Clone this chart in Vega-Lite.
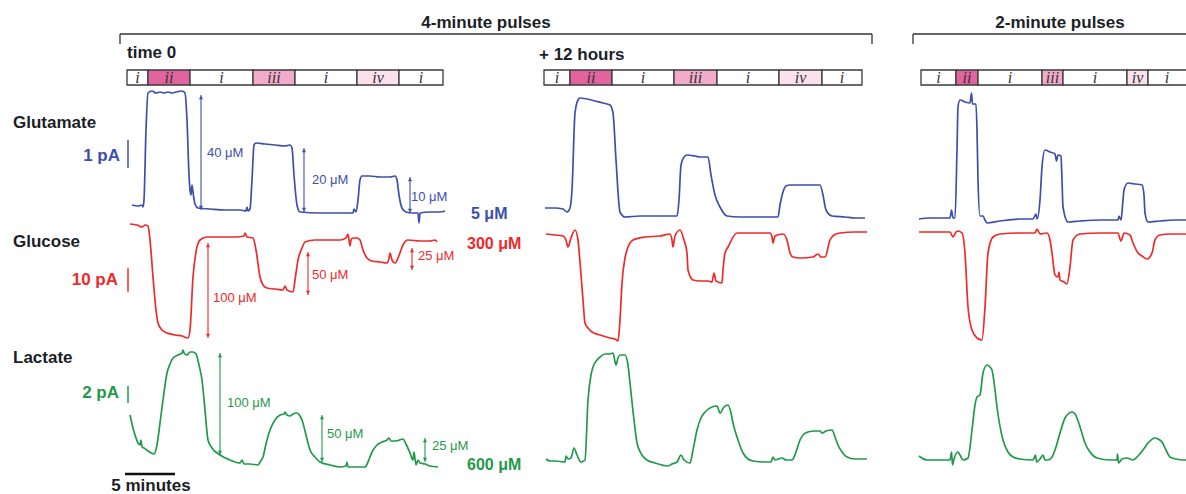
{
  "$schema": "https://vega.github.io/schema/vega-lite/v6.json",
  "width": 1186,
  "height": 494,
  "autosize": {"type": "fit", "contains": "padding"},
  "padding": 0,
  "background": "white",
  "config": {"view": {"stroke": null}},
  "datasets": {
    "trace": [
      {"a":"Glu","p":1,"x":132,"y":205},{"a":"Glu","p":1,"x":138,"y":206},{"a":"Glu","p":1,"x":142,"y":205},{"a":"Glu","p":1,"x":143,"y":207},{"a":"Glu","p":1,"x":144,"y":200},{"a":"Glu","p":1,"x":146,"y":130},{"a":"Glu","p":1,"x":148,"y":93},{"a":"Glu","p":1,"x":152,"y":91},{"a":"Glu","p":1,"x":156,"y":93},{"a":"Glu","p":1,"x":160,"y":92},{"a":"Glu","p":1,"x":164,"y":93},{"a":"Glu","p":1,"x":168,"y":92},{"a":"Glu","p":1,"x":172,"y":93},{"a":"Glu","p":1,"x":176,"y":92},{"a":"Glu","p":1,"x":182,"y":91},{"a":"Glu","p":1,"x":185,"y":93},{"a":"Glu","p":1,"x":187,"y":120},{"a":"Glu","p":1,"x":189,"y":175},{"a":"Glu","p":1,"x":190,"y":190},{"a":"Glu","p":1,"x":191,"y":195},{"a":"Glu","p":1,"x":192,"y":185},{"a":"Glu","p":1,"x":193,"y":192},{"a":"Glu","p":1,"x":195,"y":204},{"a":"Glu","p":1,"x":198,"y":208},{"a":"Glu","p":1,"x":210,"y":209},{"a":"Glu","p":1,"x":225,"y":210},{"a":"Glu","p":1,"x":240,"y":210},{"a":"Glu","p":1,"x":246,"y":211},{"a":"Glu","p":1,"x":247,"y":207},{"a":"Glu","p":1,"x":248,"y":211},{"a":"Glu","p":1,"x":250,"y":209},{"a":"Glu","p":1,"x":252,"y":180},{"a":"Glu","p":1,"x":254,"y":145},{"a":"Glu","p":1,"x":256,"y":143},{"a":"Glu","p":1,"x":265,"y":144},{"a":"Glu","p":1,"x":275,"y":145},{"a":"Glu","p":1,"x":285,"y":146},{"a":"Glu","p":1,"x":290,"y":145},{"a":"Glu","p":1,"x":292,"y":148},{"a":"Glu","p":1,"x":294,"y":175},{"a":"Glu","p":1,"x":297,"y":205},{"a":"Glu","p":1,"x":300,"y":212},{"a":"Glu","p":1,"x":320,"y":213},{"a":"Glu","p":1,"x":340,"y":213},{"a":"Glu","p":1,"x":353,"y":213},{"a":"Glu","p":1,"x":354,"y":209},{"a":"Glu","p":1,"x":356,"y":212},{"a":"Glu","p":1,"x":358,"y":200},{"a":"Glu","p":1,"x":360,"y":180},{"a":"Glu","p":1,"x":362,"y":176},{"a":"Glu","p":1,"x":370,"y":176},{"a":"Glu","p":1,"x":380,"y":177},{"a":"Glu","p":1,"x":390,"y":177},{"a":"Glu","p":1,"x":395,"y":176},{"a":"Glu","p":1,"x":397,"y":180},{"a":"Glu","p":1,"x":399,"y":195},{"a":"Glu","p":1,"x":402,"y":208},{"a":"Glu","p":1,"x":406,"y":212},{"a":"Glu","p":1,"x":412,"y":213},{"a":"Glu","p":1,"x":418,"y":213},{"a":"Glu","p":1,"x":419,"y":223},{"a":"Glu","p":1,"x":420,"y":213},{"a":"Glu","p":1,"x":430,"y":212},{"a":"Glu","p":1,"x":440,"y":212},{"a":"Glu","p":1,"x":445,"y":211},

      {"a":"Glc","p":1,"x":130,"y":224},{"a":"Glc","p":1,"x":137,"y":225},{"a":"Glc","p":1,"x":142,"y":227},{"a":"Glc","p":1,"x":145,"y":225},{"a":"Glc","p":1,"x":148,"y":226},{"a":"Glc","p":1,"x":150,"y":240},{"a":"Glc","p":1,"x":153,"y":277},{"a":"Glc","p":1,"x":156,"y":310},{"a":"Glc","p":1,"x":158,"y":323},{"a":"Glc","p":1,"x":162,"y":330},{"a":"Glc","p":1,"x":167,"y":333},{"a":"Glc","p":1,"x":175,"y":335},{"a":"Glc","p":1,"x":182,"y":336},{"a":"Glc","p":1,"x":188,"y":338},{"a":"Glc","p":1,"x":190,"y":330},{"a":"Glc","p":1,"x":193,"y":277},{"a":"Glc","p":1,"x":196,"y":252},{"a":"Glc","p":1,"x":200,"y":240},{"a":"Glc","p":1,"x":207,"y":237},{"a":"Glc","p":1,"x":220,"y":237},{"a":"Glc","p":1,"x":235,"y":237},{"a":"Glc","p":1,"x":244,"y":236},{"a":"Glc","p":1,"x":245,"y":233},{"a":"Glc","p":1,"x":247,"y":237},{"a":"Glc","p":1,"x":253,"y":238},{"a":"Glc","p":1,"x":256,"y":250},{"a":"Glc","p":1,"x":260,"y":277},{"a":"Glc","p":1,"x":263,"y":285},{"a":"Glc","p":1,"x":267,"y":288},{"a":"Glc","p":1,"x":275,"y":289},{"a":"Glc","p":1,"x":283,"y":290},{"a":"Glc","p":1,"x":285,"y":286},{"a":"Glc","p":1,"x":287,"y":290},{"a":"Glc","p":1,"x":293,"y":292},{"a":"Glc","p":1,"x":295,"y":280},{"a":"Glc","p":1,"x":298,"y":260},{"a":"Glc","p":1,"x":302,"y":248},{"a":"Glc","p":1,"x":305,"y":242},{"a":"Glc","p":1,"x":315,"y":240},{"a":"Glc","p":1,"x":330,"y":240},{"a":"Glc","p":1,"x":340,"y":240},{"a":"Glc","p":1,"x":346,"y":238},{"a":"Glc","p":1,"x":348,"y":234},{"a":"Glc","p":1,"x":350,"y":246},{"a":"Glc","p":1,"x":351,"y":240},{"a":"Glc","p":1,"x":353,"y":238},{"a":"Glc","p":1,"x":357,"y":238},{"a":"Glc","p":1,"x":360,"y":240},{"a":"Glc","p":1,"x":363,"y":250},{"a":"Glc","p":1,"x":367,"y":258},{"a":"Glc","p":1,"x":372,"y":261},{"a":"Glc","p":1,"x":380,"y":262},{"a":"Glc","p":1,"x":387,"y":263},{"a":"Glc","p":1,"x":389,"y":258},{"a":"Glc","p":1,"x":390,"y":253},{"a":"Glc","p":1,"x":392,"y":260},{"a":"Glc","p":1,"x":395,"y":263},{"a":"Glc","p":1,"x":398,"y":258},{"a":"Glc","p":1,"x":401,"y":250},{"a":"Glc","p":1,"x":403,"y":245},{"a":"Glc","p":1,"x":408,"y":240},{"a":"Glc","p":1,"x":420,"y":241},{"a":"Glc","p":1,"x":430,"y":241},{"a":"Glc","p":1,"x":435,"y":240},{"a":"Glc","p":1,"x":437,"y":242},

      {"a":"Lac","p":1,"x":130,"y":415},{"a":"Lac","p":1,"x":133,"y":428},{"a":"Lac","p":1,"x":136,"y":438},{"a":"Lac","p":1,"x":138,"y":443},{"a":"Lac","p":1,"x":140,"y":445},{"a":"Lac","p":1,"x":141,"y":440},{"a":"Lac","p":1,"x":142,"y":447},{"a":"Lac","p":1,"x":144,"y":448},{"a":"Lac","p":1,"x":148,"y":451},{"a":"Lac","p":1,"x":154,"y":454},{"a":"Lac","p":1,"x":157,"y":445},{"a":"Lac","p":1,"x":160,"y":423},{"a":"Lac","p":1,"x":163,"y":400},{"a":"Lac","p":1,"x":167,"y":373},{"a":"Lac","p":1,"x":170,"y":364},{"a":"Lac","p":1,"x":173,"y":358},{"a":"Lac","p":1,"x":178,"y":355},{"a":"Lac","p":1,"x":182,"y":353},{"a":"Lac","p":1,"x":183,"y":350},{"a":"Lac","p":1,"x":184,"y":353},{"a":"Lac","p":1,"x":187,"y":355},{"a":"Lac","p":1,"x":190,"y":352},{"a":"Lac","p":1,"x":193,"y":352},{"a":"Lac","p":1,"x":196,"y":354},{"a":"Lac","p":1,"x":199,"y":365},{"a":"Lac","p":1,"x":202,"y":380},{"a":"Lac","p":1,"x":205,"y":410},{"a":"Lac","p":1,"x":208,"y":440},{"a":"Lac","p":1,"x":212,"y":448},{"a":"Lac","p":1,"x":220,"y":455},{"a":"Lac","p":1,"x":230,"y":460},{"a":"Lac","p":1,"x":240,"y":463},{"a":"Lac","p":1,"x":242,"y":460},{"a":"Lac","p":1,"x":244,"y":464},{"a":"Lac","p":1,"x":250,"y":464},{"a":"Lac","p":1,"x":258,"y":465},{"a":"Lac","p":1,"x":260,"y":462},{"a":"Lac","p":1,"x":263,"y":457},{"a":"Lac","p":1,"x":266,"y":444},{"a":"Lac","p":1,"x":270,"y":430},{"a":"Lac","p":1,"x":275,"y":420},{"a":"Lac","p":1,"x":280,"y":415},{"a":"Lac","p":1,"x":284,"y":414},{"a":"Lac","p":1,"x":285,"y":412},{"a":"Lac","p":1,"x":287,"y":415},{"a":"Lac","p":1,"x":290,"y":416},{"a":"Lac","p":1,"x":293,"y":414},{"a":"Lac","p":1,"x":297,"y":413},{"a":"Lac","p":1,"x":300,"y":416},{"a":"Lac","p":1,"x":302,"y":420},{"a":"Lac","p":1,"x":306,"y":435},{"a":"Lac","p":1,"x":310,"y":450},{"a":"Lac","p":1,"x":315,"y":457},{"a":"Lac","p":1,"x":320,"y":462},{"a":"Lac","p":1,"x":330,"y":465},{"a":"Lac","p":1,"x":340,"y":467},{"a":"Lac","p":1,"x":346,"y":466},{"a":"Lac","p":1,"x":347,"y":462},{"a":"Lac","p":1,"x":348,"y":467},{"a":"Lac","p":1,"x":360,"y":467},{"a":"Lac","p":1,"x":365,"y":467},{"a":"Lac","p":1,"x":368,"y":462},{"a":"Lac","p":1,"x":372,"y":452},{"a":"Lac","p":1,"x":377,"y":445},{"a":"Lac","p":1,"x":382,"y":442},{"a":"Lac","p":1,"x":387,"y":440},{"a":"Lac","p":1,"x":389,"y":438},{"a":"Lac","p":1,"x":391,"y":441},{"a":"Lac","p":1,"x":396,"y":441},{"a":"Lac","p":1,"x":403,"y":439},{"a":"Lac","p":1,"x":406,"y":444},{"a":"Lac","p":1,"x":410,"y":453},{"a":"Lac","p":1,"x":413,"y":460},{"a":"Lac","p":1,"x":414,"y":452},{"a":"Lac","p":1,"x":416,"y":465},{"a":"Lac","p":1,"x":418,"y":460},{"a":"Lac","p":1,"x":420,"y":463},{"a":"Lac","p":1,"x":425,"y":464},{"a":"Lac","p":1,"x":430,"y":466},{"a":"Lac","p":1,"x":438,"y":467},

      {"a":"Glu","p":2,"x":545,"y":208},{"a":"Glu","p":2,"x":555,"y":208},{"a":"Glu","p":2,"x":563,"y":209},{"a":"Glu","p":2,"x":567,"y":212},{"a":"Glu","p":2,"x":570,"y":208},{"a":"Glu","p":2,"x":572,"y":190},{"a":"Glu","p":2,"x":575,"y":113},{"a":"Glu","p":2,"x":578,"y":100},{"a":"Glu","p":2,"x":580,"y":98},{"a":"Glu","p":2,"x":587,"y":99},{"a":"Glu","p":2,"x":595,"y":101},{"a":"Glu","p":2,"x":603,"y":103},{"a":"Glu","p":2,"x":610,"y":105},{"a":"Glu","p":2,"x":613,"y":113},{"a":"Glu","p":2,"x":616,"y":160},{"a":"Glu","p":2,"x":620,"y":212},{"a":"Glu","p":2,"x":625,"y":217},{"a":"Glu","p":2,"x":640,"y":216},{"a":"Glu","p":2,"x":660,"y":216},{"a":"Glu","p":2,"x":677,"y":216},{"a":"Glu","p":2,"x":679,"y":200},{"a":"Glu","p":2,"x":681,"y":165},{"a":"Glu","p":2,"x":684,"y":157},{"a":"Glu","p":2,"x":687,"y":155},{"a":"Glu","p":2,"x":695,"y":156},{"a":"Glu","p":2,"x":700,"y":157},{"a":"Glu","p":2,"x":708,"y":157},{"a":"Glu","p":2,"x":711,"y":175},{"a":"Glu","p":2,"x":715,"y":195},{"a":"Glu","p":2,"x":720,"y":207},{"a":"Glu","p":2,"x":727,"y":216},{"a":"Glu","p":2,"x":740,"y":217},{"a":"Glu","p":2,"x":760,"y":217},{"a":"Glu","p":2,"x":778,"y":217},{"a":"Glu","p":2,"x":780,"y":205},{"a":"Glu","p":2,"x":783,"y":192},{"a":"Glu","p":2,"x":786,"y":186},{"a":"Glu","p":2,"x":790,"y":185},{"a":"Glu","p":2,"x":800,"y":185},{"a":"Glu","p":2,"x":810,"y":185},{"a":"Glu","p":2,"x":820,"y":185},{"a":"Glu","p":2,"x":823,"y":195},{"a":"Glu","p":2,"x":826,"y":210},{"a":"Glu","p":2,"x":832,"y":216},{"a":"Glu","p":2,"x":845,"y":217},{"a":"Glu","p":2,"x":855,"y":218},{"a":"Glu","p":2,"x":865,"y":218},

      {"a":"Glc","p":2,"x":546,"y":234},{"a":"Glc","p":2,"x":555,"y":235},{"a":"Glc","p":2,"x":563,"y":236},{"a":"Glc","p":2,"x":566,"y":240},{"a":"Glc","p":2,"x":568,"y":247},{"a":"Glc","p":2,"x":571,"y":238},{"a":"Glc","p":2,"x":575,"y":230},{"a":"Glc","p":2,"x":578,"y":240},{"a":"Glc","p":2,"x":580,"y":262},{"a":"Glc","p":2,"x":583,"y":300},{"a":"Glc","p":2,"x":585,"y":323},{"a":"Glc","p":2,"x":588,"y":328},{"a":"Glc","p":2,"x":592,"y":332},{"a":"Glc","p":2,"x":600,"y":335},{"a":"Glc","p":2,"x":610,"y":338},{"a":"Glc","p":2,"x":615,"y":339},{"a":"Glc","p":2,"x":618,"y":341},{"a":"Glc","p":2,"x":620,"y":320},{"a":"Glc","p":2,"x":622,"y":283},{"a":"Glc","p":2,"x":625,"y":258},{"a":"Glc","p":2,"x":627,"y":250},{"a":"Glc","p":2,"x":633,"y":240},{"a":"Glc","p":2,"x":645,"y":237},{"a":"Glc","p":2,"x":660,"y":236},{"a":"Glc","p":2,"x":670,"y":234},{"a":"Glc","p":2,"x":672,"y":240},{"a":"Glc","p":2,"x":673,"y":247},{"a":"Glc","p":2,"x":675,"y":236},{"a":"Glc","p":2,"x":680,"y":230},{"a":"Glc","p":2,"x":684,"y":240},{"a":"Glc","p":2,"x":687,"y":253},{"a":"Glc","p":2,"x":688,"y":270},{"a":"Glc","p":2,"x":693,"y":280},{"a":"Glc","p":2,"x":700,"y":281},{"a":"Glc","p":2,"x":708,"y":281},{"a":"Glc","p":2,"x":712,"y":282},{"a":"Glc","p":2,"x":714,"y":273},{"a":"Glc","p":2,"x":716,"y":281},{"a":"Glc","p":2,"x":722,"y":283},{"a":"Glc","p":2,"x":723,"y":270},{"a":"Glc","p":2,"x":725,"y":253},{"a":"Glc","p":2,"x":728,"y":247},{"a":"Glc","p":2,"x":737,"y":233},{"a":"Glc","p":2,"x":750,"y":233},{"a":"Glc","p":2,"x":770,"y":233},{"a":"Glc","p":2,"x":772,"y":237},{"a":"Glc","p":2,"x":773,"y":243},{"a":"Glc","p":2,"x":775,"y":236},{"a":"Glc","p":2,"x":783,"y":234},{"a":"Glc","p":2,"x":787,"y":240},{"a":"Glc","p":2,"x":790,"y":253},{"a":"Glc","p":2,"x":793,"y":257},{"a":"Glc","p":2,"x":800,"y":258},{"a":"Glc","p":2,"x":813,"y":257},{"a":"Glc","p":2,"x":818,"y":254},{"a":"Glc","p":2,"x":821,"y":257},{"a":"Glc","p":2,"x":825,"y":257},{"a":"Glc","p":2,"x":830,"y":240},{"a":"Glc","p":2,"x":834,"y":235},{"a":"Glc","p":2,"x":840,"y":233},{"a":"Glc","p":2,"x":855,"y":232},{"a":"Glc","p":2,"x":867,"y":232},

      {"a":"Lac","p":2,"x":546,"y":459},{"a":"Lac","p":2,"x":550,"y":461},{"a":"Lac","p":2,"x":555,"y":461},{"a":"Lac","p":2,"x":565,"y":462},{"a":"Lac","p":2,"x":566,"y":456},{"a":"Lac","p":2,"x":568,"y":459},{"a":"Lac","p":2,"x":571,"y":458},{"a":"Lac","p":2,"x":574,"y":448},{"a":"Lac","p":2,"x":577,"y":455},{"a":"Lac","p":2,"x":581,"y":462},{"a":"Lac","p":2,"x":585,"y":460},{"a":"Lac","p":2,"x":588,"y":400},{"a":"Lac","p":2,"x":591,"y":375},{"a":"Lac","p":2,"x":593,"y":367},{"a":"Lac","p":2,"x":597,"y":360},{"a":"Lac","p":2,"x":600,"y":357},{"a":"Lac","p":2,"x":605,"y":354},{"a":"Lac","p":2,"x":610,"y":354},{"a":"Lac","p":2,"x":613,"y":353},{"a":"Lac","p":2,"x":616,"y":365},{"a":"Lac","p":2,"x":618,"y":358},{"a":"Lac","p":2,"x":620,"y":355},{"a":"Lac","p":2,"x":625,"y":355},{"a":"Lac","p":2,"x":628,"y":365},{"a":"Lac","p":2,"x":630,"y":383},{"a":"Lac","p":2,"x":634,"y":420},{"a":"Lac","p":2,"x":637,"y":443},{"a":"Lac","p":2,"x":642,"y":455},{"a":"Lac","p":2,"x":647,"y":460},{"a":"Lac","p":2,"x":655,"y":463},{"a":"Lac","p":2,"x":668,"y":466},{"a":"Lac","p":2,"x":672,"y":464},{"a":"Lac","p":2,"x":677,"y":462},{"a":"Lac","p":2,"x":681,"y":455},{"a":"Lac","p":2,"x":684,"y":460},{"a":"Lac","p":2,"x":690,"y":463},{"a":"Lac","p":2,"x":693,"y":450},{"a":"Lac","p":2,"x":697,"y":430},{"a":"Lac","p":2,"x":701,"y":418},{"a":"Lac","p":2,"x":705,"y":412},{"a":"Lac","p":2,"x":712,"y":407},{"a":"Lac","p":2,"x":717,"y":406},{"a":"Lac","p":2,"x":720,"y":413},{"a":"Lac","p":2,"x":724,"y":407},{"a":"Lac","p":2,"x":728,"y":405},{"a":"Lac","p":2,"x":731,"y":413},{"a":"Lac","p":2,"x":733,"y":423},{"a":"Lac","p":2,"x":738,"y":440},{"a":"Lac","p":2,"x":743,"y":453},{"a":"Lac","p":2,"x":748,"y":459},{"a":"Lac","p":2,"x":753,"y":461},{"a":"Lac","p":2,"x":765,"y":462},{"a":"Lac","p":2,"x":771,"y":462},{"a":"Lac","p":2,"x":773,"y":457},{"a":"Lac","p":2,"x":775,"y":460},{"a":"Lac","p":2,"x":782,"y":458},{"a":"Lac","p":2,"x":786,"y":460},{"a":"Lac","p":2,"x":792,"y":460},{"a":"Lac","p":2,"x":796,"y":452},{"a":"Lac","p":2,"x":800,"y":440},{"a":"Lac","p":2,"x":804,"y":434},{"a":"Lac","p":2,"x":808,"y":432},{"a":"Lac","p":2,"x":815,"y":431},{"a":"Lac","p":2,"x":820,"y":431},{"a":"Lac","p":2,"x":822,"y":433},{"a":"Lac","p":2,"x":826,"y":431},{"a":"Lac","p":2,"x":832,"y":430},{"a":"Lac","p":2,"x":835,"y":437},{"a":"Lac","p":2,"x":838,"y":445},{"a":"Lac","p":2,"x":842,"y":452},{"a":"Lac","p":2,"x":847,"y":457},{"a":"Lac","p":2,"x":855,"y":459},{"a":"Lac","p":2,"x":867,"y":459},

      {"a":"Glu","p":3,"x":919,"y":219},{"a":"Glu","p":3,"x":930,"y":218},{"a":"Glu","p":3,"x":945,"y":218},{"a":"Glu","p":3,"x":950,"y":218},{"a":"Glu","p":3,"x":951.5,"y":210},{"a":"Glu","p":3,"x":953,"y":218},{"a":"Glu","p":3,"x":955,"y":218},{"a":"Glu","p":3,"x":957,"y":150},{"a":"Glu","p":3,"x":958,"y":107},{"a":"Glu","p":3,"x":960,"y":100},{"a":"Glu","p":3,"x":965,"y":102},{"a":"Glu","p":3,"x":970,"y":103},{"a":"Glu","p":3,"x":971.5,"y":93},{"a":"Glu","p":3,"x":972.5,"y":104},{"a":"Glu","p":3,"x":976,"y":104},{"a":"Glu","p":3,"x":977,"y":130},{"a":"Glu","p":3,"x":978,"y":180},{"a":"Glu","p":3,"x":980,"y":216},{"a":"Glu","p":3,"x":983,"y":216},{"a":"Glu","p":3,"x":985,"y":220},{"a":"Glu","p":3,"x":987,"y":223},{"a":"Glu","p":3,"x":1000,"y":221},{"a":"Glu","p":3,"x":1020,"y":219},{"a":"Glu","p":3,"x":1033,"y":219},{"a":"Glu","p":3,"x":1036,"y":214},{"a":"Glu","p":3,"x":1037,"y":219},{"a":"Glu","p":3,"x":1040,"y":200},{"a":"Glu","p":3,"x":1042,"y":167},{"a":"Glu","p":3,"x":1045,"y":150},{"a":"Glu","p":3,"x":1050,"y":152},{"a":"Glu","p":3,"x":1055,"y":154},{"a":"Glu","p":3,"x":1056.5,"y":161},{"a":"Glu","p":3,"x":1058,"y":155},{"a":"Glu","p":3,"x":1061,"y":156},{"a":"Glu","p":3,"x":1062,"y":180},{"a":"Glu","p":3,"x":1063,"y":207},{"a":"Glu","p":3,"x":1068,"y":222},{"a":"Glu","p":3,"x":1080,"y":221},{"a":"Glu","p":3,"x":1100,"y":220},{"a":"Glu","p":3,"x":1118,"y":220},{"a":"Glu","p":3,"x":1119,"y":216},{"a":"Glu","p":3,"x":1121,"y":220},{"a":"Glu","p":3,"x":1123,"y":200},{"a":"Glu","p":3,"x":1124,"y":190},{"a":"Glu","p":3,"x":1128,"y":183},{"a":"Glu","p":3,"x":1135,"y":184},{"a":"Glu","p":3,"x":1142,"y":185},{"a":"Glu","p":3,"x":1144,"y":195},{"a":"Glu","p":3,"x":1145,"y":213},{"a":"Glu","p":3,"x":1148,"y":222},{"a":"Glu","p":3,"x":1160,"y":221},{"a":"Glu","p":3,"x":1175,"y":220},{"a":"Glu","p":3,"x":1186,"y":220},

      {"a":"Glc","p":3,"x":919,"y":232},{"a":"Glc","p":3,"x":935,"y":232},{"a":"Glc","p":3,"x":950,"y":232},{"a":"Glc","p":3,"x":953,"y":237},{"a":"Glc","p":3,"x":956,"y":232},{"a":"Glc","p":3,"x":958,"y":231},{"a":"Glc","p":3,"x":962,"y":233},{"a":"Glc","p":3,"x":965,"y":253},{"a":"Glc","p":3,"x":968,"y":307},{"a":"Glc","p":3,"x":972,"y":330},{"a":"Glc","p":3,"x":977,"y":338},{"a":"Glc","p":3,"x":982,"y":340},{"a":"Glc","p":3,"x":985,"y":307},{"a":"Glc","p":3,"x":988,"y":253},{"a":"Glc","p":3,"x":993,"y":237},{"a":"Glc","p":3,"x":1000,"y":234},{"a":"Glc","p":3,"x":1020,"y":233},{"a":"Glc","p":3,"x":1035,"y":233},{"a":"Glc","p":3,"x":1037,"y":229},{"a":"Glc","p":3,"x":1040,"y":234},{"a":"Glc","p":3,"x":1047,"y":233},{"a":"Glc","p":3,"x":1050,"y":240},{"a":"Glc","p":3,"x":1052,"y":253},{"a":"Glc","p":3,"x":1055,"y":275},{"a":"Glc","p":3,"x":1058,"y":277},{"a":"Glc","p":3,"x":1059,"y":272},{"a":"Glc","p":3,"x":1060,"y":280},{"a":"Glc","p":3,"x":1064,"y":282},{"a":"Glc","p":3,"x":1067,"y":284},{"a":"Glc","p":3,"x":1070,"y":267},{"a":"Glc","p":3,"x":1073,"y":240},{"a":"Glc","p":3,"x":1080,"y":234},{"a":"Glc","p":3,"x":1100,"y":233},{"a":"Glc","p":3,"x":1118,"y":233},{"a":"Glc","p":3,"x":1120,"y":239},{"a":"Glc","p":3,"x":1121,"y":241},{"a":"Glc","p":3,"x":1124,"y":233},{"a":"Glc","p":3,"x":1130,"y":235},{"a":"Glc","p":3,"x":1133,"y":243},{"a":"Glc","p":3,"x":1138,"y":253},{"a":"Glc","p":3,"x":1142,"y":256},{"a":"Glc","p":3,"x":1147,"y":259},{"a":"Glc","p":3,"x":1152,"y":253},{"a":"Glc","p":3,"x":1155,"y":240},{"a":"Glc","p":3,"x":1160,"y":235},{"a":"Glc","p":3,"x":1170,"y":234},{"a":"Glc","p":3,"x":1186,"y":234},

      {"a":"Lac","p":3,"x":919,"y":456},{"a":"Lac","p":3,"x":927,"y":460},{"a":"Lac","p":3,"x":940,"y":460},{"a":"Lac","p":3,"x":950,"y":460},{"a":"Lac","p":3,"x":951.5,"y":452},{"a":"Lac","p":3,"x":952.5,"y":465},{"a":"Lac","p":3,"x":954,"y":459},{"a":"Lac","p":3,"x":958,"y":452},{"a":"Lac","p":3,"x":960,"y":455},{"a":"Lac","p":3,"x":963,"y":460},{"a":"Lac","p":3,"x":968,"y":458},{"a":"Lac","p":3,"x":972,"y":430},{"a":"Lac","p":3,"x":975,"y":405},{"a":"Lac","p":3,"x":977,"y":397},{"a":"Lac","p":3,"x":980,"y":395},{"a":"Lac","p":3,"x":983,"y":373},{"a":"Lac","p":3,"x":987,"y":365},{"a":"Lac","p":3,"x":990,"y":367},{"a":"Lac","p":3,"x":992,"y":370},{"a":"Lac","p":3,"x":995,"y":390},{"a":"Lac","p":3,"x":997,"y":407},{"a":"Lac","p":3,"x":1003,"y":440},{"a":"Lac","p":3,"x":1008,"y":452},{"a":"Lac","p":3,"x":1013,"y":457},{"a":"Lac","p":3,"x":1020,"y":459},{"a":"Lac","p":3,"x":1033,"y":460},{"a":"Lac","p":3,"x":1035.5,"y":455},{"a":"Lac","p":3,"x":1036.5,"y":462},{"a":"Lac","p":3,"x":1040,"y":459},{"a":"Lac","p":3,"x":1043,"y":455},{"a":"Lac","p":3,"x":1045,"y":460},{"a":"Lac","p":3,"x":1048,"y":460},{"a":"Lac","p":3,"x":1052,"y":457},{"a":"Lac","p":3,"x":1055,"y":450},{"a":"Lac","p":3,"x":1060,"y":433},{"a":"Lac","p":3,"x":1065,"y":418},{"a":"Lac","p":3,"x":1068,"y":414},{"a":"Lac","p":3,"x":1072,"y":412},{"a":"Lac","p":3,"x":1075,"y":414},{"a":"Lac","p":3,"x":1077,"y":418},{"a":"Lac","p":3,"x":1081,"y":430},{"a":"Lac","p":3,"x":1085,"y":443},{"a":"Lac","p":3,"x":1090,"y":452},{"a":"Lac","p":3,"x":1097,"y":458},{"a":"Lac","p":3,"x":1110,"y":460},{"a":"Lac","p":3,"x":1117,"y":460},{"a":"Lac","p":3,"x":1117.5,"y":454},{"a":"Lac","p":3,"x":1118.5,"y":463},{"a":"Lac","p":3,"x":1122,"y":459},{"a":"Lac","p":3,"x":1127,"y":458},{"a":"Lac","p":3,"x":1133,"y":460},{"a":"Lac","p":3,"x":1138,"y":456},{"a":"Lac","p":3,"x":1143,"y":450},{"a":"Lac","p":3,"x":1148,"y":443},{"a":"Lac","p":3,"x":1155,"y":438},{"a":"Lac","p":3,"x":1158,"y":439},{"a":"Lac","p":3,"x":1162,"y":442},{"a":"Lac","p":3,"x":1166,"y":450},{"a":"Lac","p":3,"x":1170,"y":457},{"a":"Lac","p":3,"x":1176,"y":459},{"a":"Lac","p":3,"x":1183,"y":460},{"a":"Lac","p":3,"x":1186,"y":460}
    ],
    "pulses": [
      {"x":127,"x2":148,"xc":137.5,"y":70,"y2":85,"ty":82.5,"k":"i"},{"x":148,"x2":190,"xc":169,"y":70,"y2":85,"ty":82.5,"k":"ii"},{"x":190,"x2":253,"xc":221.5,"y":70,"y2":85,"ty":82.5,"k":"i"},{"x":253,"x2":295,"xc":274,"y":70,"y2":85,"ty":82.5,"k":"iii"},{"x":295,"x2":357,"xc":326,"y":70,"y2":85,"ty":82.5,"k":"i"},{"x":357,"x2":399,"xc":378,"y":70,"y2":85,"ty":82.5,"k":"iv"},{"x":399,"x2":443,"xc":421,"y":70,"y2":85,"ty":82.5,"k":"i"},
      {"x":544,"x2":570,"xc":557,"y":70,"y2":85,"ty":82.5,"k":"i"},{"x":570,"x2":612,"xc":591,"y":70,"y2":85,"ty":82.5,"k":"ii"},{"x":612,"x2":674,"xc":643,"y":70,"y2":85,"ty":82.5,"k":"i"},{"x":674,"x2":717,"xc":695.5,"y":70,"y2":85,"ty":82.5,"k":"iii"},{"x":717,"x2":779,"xc":748,"y":70,"y2":85,"ty":82.5,"k":"i"},{"x":779,"x2":822,"xc":800.5,"y":70,"y2":85,"ty":82.5,"k":"iv"},{"x":822,"x2":862,"xc":842,"y":70,"y2":85,"ty":82.5,"k":"i"},
      {"x":921,"x2":956,"xc":938.5,"y":70,"y2":85,"ty":82.5,"k":"i"},{"x":956,"x2":978,"xc":967,"y":70,"y2":85,"ty":82.5,"k":"ii"},{"x":978,"x2":1042,"xc":1010,"y":70,"y2":85,"ty":82.5,"k":"i"},{"x":1042,"x2":1063,"xc":1052.5,"y":70,"y2":85,"ty":82.5,"k":"iii"},{"x":1063,"x2":1127,"xc":1095,"y":70,"y2":85,"ty":82.5,"k":"i"},{"x":1127,"x2":1148,"xc":1137.5,"y":70,"y2":85,"ty":82.5,"k":"iv"},{"x":1148,"x2":1224,"xc":1167,"y":70,"y2":85,"ty":82.5,"k":"i"}
    ],
    "brackets": [
      {"x":120,"x2":872,"y":34,"y2":34},{"x":120,"x2":120,"y":34,"y2":44},{"x":872,"x2":872,"y":34,"y2":44},
      {"x":913,"x2":1200,"y":34,"y2":34},{"x":913,"x2":913,"y":34,"y2":44}
    ],
    "arrows": [
      {"a":"Glu","x":201,"y":95,"y2":210},{"a":"Glu","x":304,"y":148,"y2":212},{"a":"Glu","x":410,"y":177,"y2":213},
      {"a":"Glc","x":208,"y":243,"y2":338},{"a":"Glc","x":308,"y":252,"y2":295},{"a":"Glc","x":412,"y":248,"y2":270},
      {"a":"Lac","x":220,"y":353,"y2":455},{"a":"Lac","x":322,"y":415,"y2":462},{"a":"Lac","x":425,"y":438,"y2":462}
    ],
    "conc": [
      {"a":"Glu","x":207,"y":157,"t":"40 μM"},{"a":"Glu","x":312,"y":184,"t":"20 μM"},{"a":"Glu","x":411,"y":201,"t":"10 μM"},
      {"a":"Glc","x":213,"y":302,"t":"100 μM"},{"a":"Glc","x":312,"y":279,"t":"50 μM"},{"a":"Glc","x":418,"y":260,"t":"25 μM"},
      {"a":"Lac","x":227,"y":407,"t":"100 μM"},{"a":"Lac","x":327,"y":438,"t":"50 μM"},{"a":"Lac","x":432,"y":450,"t":"25 μM"}
    ],
    "scalebars": [
      {"a":"Glu","x":128,"y":140,"y2":168},{"a":"Glc","x":128,"y":268,"y2":292},{"a":"Lac","x":128,"y":386,"y2":403}
    ],
    "unitlabels": [
      {"a":"Glu","x":120,"y":161,"t":"1 pA"},{"a":"Glc","x":118,"y":285,"t":"10 pA"},{"a":"Lac","x":119,"y":398,"t":"2 pA"}
    ],
    "baselabels": [
      {"a":"Glu","x":471,"y":219,"t":"5 μM"},{"a":"Glc","x":467,"y":249,"t":"300 μM"},{"a":"Lac","x":467,"y":470,"t":"600 μM"}
    ],
    "blacklabels": [
      {"x":13,"y":128,"t":"Glutamate"},{"x":13,"y":247,"t":"Glucose"},{"x":13,"y":363,"t":"Lactate"},
      {"x":127,"y":58,"t":"time 0"},{"x":539,"y":60,"t":"+ 12 hours"}
    ],
    "headers": [
      {"x":486,"y":28,"t":"4-minute pulses"},{"x":1060,"y":28,"t":"2-minute pulses"},{"x":151,"y":491,"t":"5 minutes"}
    ]
  },
  "encoding": {
    "x": {"field": "x", "type": "quantitative", "scale": {"domain": [0, 1186], "nice": false, "zero": false}, "axis": null},
    "y": {"field": "y", "type": "quantitative", "scale": {"domain": [0, 494], "reverse": true, "nice": false, "zero": false}, "axis": null}
  },
  "layer": [
    {
      "data": {"name": "pulses"},
      "mark": {"type": "rect", "stroke": "#3a3a3a", "strokeWidth": 1.3, "clip": true},
      "encoding": {
        "x2": {"field": "x2"},
        "y2": {"field": "y2"},
        "fill": {"field": "k", "type": "nominal", "scale": {"domain": ["i", "ii", "iii", "iv"], "range": ["#ffffff", "#e2649e", "#f2abcb", "#fbe1ee"]}, "legend": null}
      }
    },
    {
      "data": {"name": "pulses"},
      "mark": {"type": "text", "font": "Liberation Serif", "fontStyle": "italic", "fontSize": 16, "color": "#333333", "baseline": "alphabetic", "align": "center"},
      "encoding": {
        "x": {"field": "xc", "type": "quantitative"},
        "y": {"field": "ty", "type": "quantitative"},
        "text": {"field": "k"}
      }
    },
    {
      "data": {"name": "brackets"},
      "mark": {"type": "rule", "color": "#333333", "strokeWidth": 1.3, "clip": true},
      "encoding": {"x2": {"field": "x2"}, "y2": {"field": "y2"}}
    },
    {
      "data": {"name": "trace"},
      "mark": {"type": "line", "strokeWidth": 1.7, "clip": true, "interpolate": "monotone"},
      "encoding": {
        "color": {"field": "a", "type": "nominal", "scale": {"domain": ["Glu", "Glc", "Lac"], "range": ["#3d4fae", "#ee2a2a", "#1f9a4a"]}, "legend": null},
        "detail": {"field": "p"}
      }
    },
    {
      "data": {"name": "scalebars"},
      "mark": {"type": "rule", "strokeWidth": 1.5},
      "encoding": {"y2": {"field": "y2"}, "color": {"field": "a", "type": "nominal", "legend": null}}
    },
    {
      "data": {"values": [{"x": 125, "x2": 175, "y": 474}]},
      "mark": {"type": "rule", "strokeWidth": 2.5, "color": "#111111"},
      "encoding": {"x2": {"field": "x2"}}
    },
    {
      "data": {"name": "arrows"},
      "mark": {"type": "rule", "strokeWidth": 1.1},
      "encoding": {"y2": {"field": "y2"}, "color": {"field": "a", "type": "nominal", "legend": null}}
    },
    {
      "data": {"name": "arrows"},
      "mark": {"type": "point", "shape": "triangle-up", "filled": true, "size": 18, "opacity": 1, "yOffset": 2.5},
      "encoding": {"color": {"field": "a", "type": "nominal", "legend": null}}
    },
    {
      "data": {"name": "arrows"},
      "mark": {"type": "point", "shape": "triangle-down", "filled": true, "size": 18, "opacity": 1, "yOffset": -2.5},
      "encoding": {"y": {"field": "y2", "type": "quantitative"}, "color": {"field": "a", "type": "nominal", "legend": null}}
    },
    {
      "data": {"name": "conc"},
      "mark": {"type": "text", "font": "Liberation Sans", "fontSize": 13, "align": "left", "baseline": "alphabetic"},
      "encoding": {"text": {"field": "t"}, "color": {"field": "a", "type": "nominal", "legend": null}}
    },
    {
      "data": {"name": "unitlabels"},
      "mark": {"type": "text", "font": "Liberation Sans", "fontWeight": "bold", "fontSize": 17, "align": "right", "baseline": "alphabetic"},
      "encoding": {"text": {"field": "t"}, "color": {"field": "a", "type": "nominal", "legend": null}}
    },
    {
      "data": {"name": "baselabels"},
      "mark": {"type": "text", "font": "Liberation Sans", "fontWeight": "bold", "fontSize": 16, "align": "left", "baseline": "alphabetic"},
      "encoding": {"text": {"field": "t"}, "color": {"field": "a", "type": "nominal", "legend": null}}
    },
    {
      "data": {"name": "blacklabels"},
      "mark": {"type": "text", "font": "Liberation Sans", "fontWeight": "bold", "fontSize": 17, "align": "left", "baseline": "alphabetic", "color": "#1b1f28"},
      "encoding": {"text": {"field": "t"}}
    },
    {
      "data": {"name": "headers"},
      "mark": {"type": "text", "font": "Liberation Sans", "fontWeight": "bold", "fontSize": 17, "align": "center", "baseline": "alphabetic", "color": "#1b1f28"},
      "encoding": {"text": {"field": "t"}}
    }
  ]
}
